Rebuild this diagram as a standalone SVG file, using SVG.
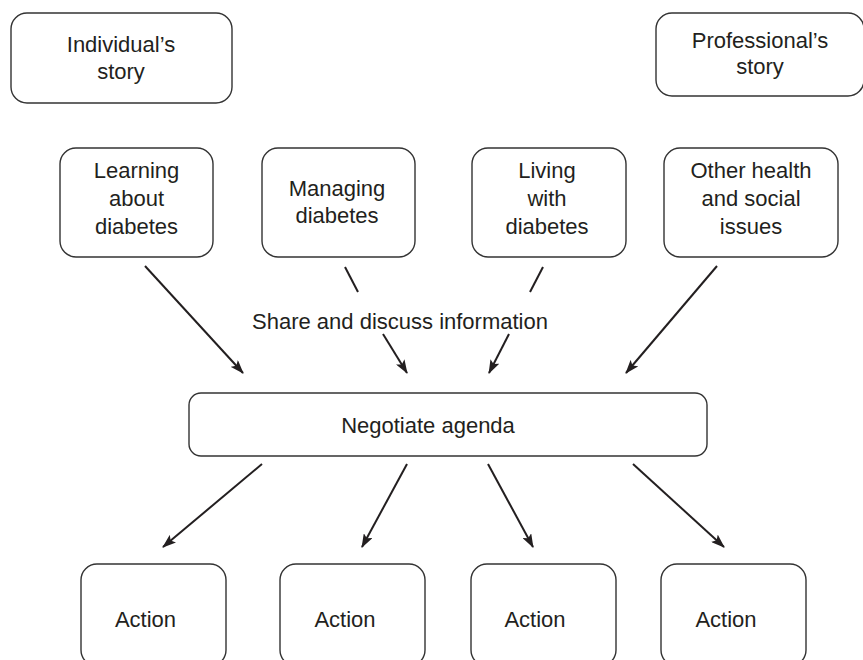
<svg xmlns="http://www.w3.org/2000/svg" width="863" height="660" viewBox="0 0 863 660">
<style>
.box{fill:#fff;stroke:#333;stroke-width:1.4}
text{font-family:"Liberation Sans",Arial,Helvetica,sans-serif;font-size:22px;fill:#231f20;text-anchor:middle}
.c{stroke:#231f20;stroke-width:2;fill:none}
.a{marker-end:url(#ah)}
</style>
<defs>
<marker id="ah" markerUnits="userSpaceOnUse" markerWidth="14" markerHeight="10" refX="13" refY="5" orient="auto">
<path d="M0,0 L14,5 L0,10 L3,5 z" fill="#231f20"/>
</marker>
</defs>
<rect width="863" height="660" fill="#fff"/>
<g id="individual-story">
<rect class="box" x="11" y="13" width="221" height="90" rx="16"/>
<text x="121" y="52">Individual’s</text>
<text x="121" y="79">story</text>
</g>
<g id="professional-story">
<rect class="box" x="656" y="13" width="208" height="83" rx="16"/>
<text x="760" y="48">Professional’s</text>
<text x="760" y="74">story</text>
</g>
<g id="learning">
<rect class="box" x="60" y="148" width="153" height="109" rx="16"/>
<text x="136.5" y="178">Learning</text>
<text x="136.5" y="206">about</text>
<text x="136.5" y="234">diabetes</text>
</g>
<g id="managing">
<rect class="box" x="262" y="148" width="153" height="109" rx="16"/>
<text x="337" y="196">Managing</text>
<text x="337" y="223">diabetes</text>
</g>
<g id="living">
<rect class="box" x="472" y="148" width="154" height="109" rx="16"/>
<text x="547" y="178">Living</text>
<text x="547" y="206">with</text>
<text x="547" y="234">diabetes</text>
</g>
<g id="other">
<rect class="box" x="664" y="148" width="174" height="109" rx="16"/>
<text x="751" y="178">Other health</text>
<text x="751" y="206">and social</text>
<text x="751" y="234">issues</text>
</g>
<g id="share-label">
<text x="400" y="329">Share and discuss information</text>
</g>
<g id="negotiate">
<rect class="box" x="189" y="393" width="518" height="63" rx="12"/>
<text x="428" y="433">Negotiate agenda</text>
</g>
<g id="action-1">
<rect class="box" x="81" y="564" width="145" height="102" rx="16"/>
<text x="145.5" y="627">Action</text>
</g>
<g id="action-2">
<rect class="box" x="280" y="564" width="145" height="102" rx="16"/>
<text x="345" y="627">Action</text>
</g>
<g id="action-3">
<rect class="box" x="471" y="564" width="145" height="102" rx="16"/>
<text x="535" y="627">Action</text>
</g>
<g id="action-4">
<rect class="box" x="661" y="564" width="145" height="102" rx="16"/>
<text x="726" y="627">Action</text>
</g>
<g id="connectors">
<path class="c a" d="M145,266 L243,373"/>
<path class="c" d="M345,267 L358,292"/>
<path class="c a" d="M383,334 L407,373"/>
<path class="c" d="M543,267 L530,292"/>
<path class="c a" d="M509,334 L489,373"/>
<path class="c a" d="M717,266 L626,373"/>
<path class="c a" d="M262,464 L163,547"/>
<path class="c a" d="M407,464 L362,547"/>
<path class="c a" d="M488,464 L533,547"/>
<path class="c a" d="M633,464 L724,547"/>
</g>
</svg>
